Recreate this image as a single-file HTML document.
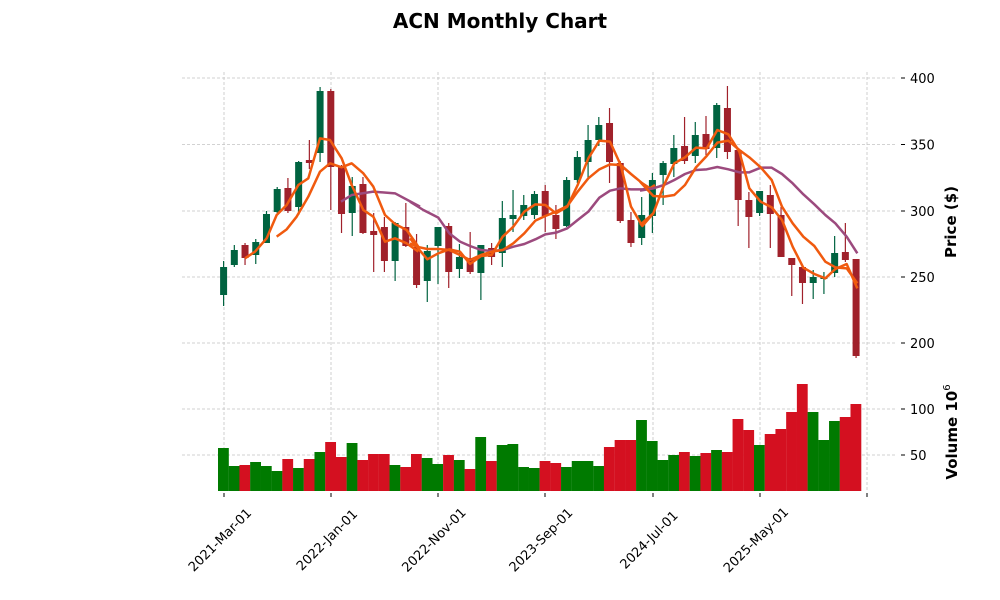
<!DOCTYPE html>
<html><head><meta charset="utf-8"><style>
html,body{margin:0;padding:0;background:#fff;}
svg{display:block;font-family:"DejaVu Sans","Liberation Sans",sans-serif;}
</style></head><body>
<svg id="s" width="1000" height="600" xmlns="http://www.w3.org/2000/svg">
<rect width="1000" height="600" fill="#fff"/>
<text x="500" y="28" text-anchor="middle" font-size="20" font-weight="bold">ACN Monthly Chart</text>
<g id="grid" stroke="#c4c4c4" stroke-width="0.8" stroke-dasharray="3,2"></g>
<g id="vol"></g>
<g id="cand"></g>
<g fill="none" stroke-width="2.5" stroke-linejoin="round">
<g transform="translate(180,70) scale(0.33333)">
<polyline vector-effect="non-scaling-stroke" stroke="#9c4a7e" points="483,395 515,375 580,365 645,370 720,410"/>
<polyline vector-effect="non-scaling-stroke" stroke="#f05a0f" points="195,565 225,545 260,505 290,435 320,405 355,345 385,325 420,205 450,210 485,265 515,345 550,420 580,440 615,515 645,505 680,520 715,545"/>
<polyline vector-effect="non-scaling-stroke" stroke="#f05a0f" points="290,500 320,478 350,440 385,380 420,305 450,280 485,292 515,280 550,310 580,350 615,435 645,462 680,480 715,530"/>
</g>
<g transform="translate(410,70) scale(0.33333)">
<polyline vector-effect="non-scaling-stroke" stroke="#9c4a7e" points="0,395 40,420 85,443 118,490 150,515 180,528 213,540 245,543 278,540 310,530 343,522 376,508 406,493 438,488 472,475 503,450 535,425 568,383 600,362 632,355 663,358 697,358 720,355"/>
<polyline vector-effect="non-scaling-stroke" stroke="#f05a0f" points="0,505 20,530 52,568 85,550 118,538 150,545 180,582 213,558 245,555 278,500 310,470 343,425 376,403 406,405 438,430 472,410 503,345 535,265 568,212 600,215 632,285 663,410 697,468 730,430"/>
<polyline vector-effect="non-scaling-stroke" stroke="#f05a0f" points="0,520 20,530 52,537 85,537 118,540 150,555 180,570 213,555 245,545 278,540 310,520 343,490 376,452 406,438 438,425 472,408 503,365 535,325 568,298 600,283 632,285 663,312 697,340 720,355 735,345"/>
</g>
<g transform="translate(640,70) scale(0.33333)">
<polyline vector-effect="non-scaling-stroke" stroke="#9c4a7e" points="0,362 40,355 72,345 103,330 135,312 168,300 200,298 232,291 265,298 298,307 328,307 362,293 395,293 426,312 458,340 490,373 523,403 556,435 586,460 620,500 652,550"/>
<polyline vector-effect="non-scaling-stroke" stroke="#f05a0f" points="0,465 40,430 72,345 103,280 135,262 168,233 200,235 232,180 265,193 298,245 328,355 362,395 395,412 426,450 458,530 490,593 523,612 556,625 586,597 620,582 652,655"/>
<polyline vector-effect="non-scaling-stroke" stroke="#f05a0f" points="0,335 40,378 72,380 103,375 135,345 168,292 200,258 232,218 265,212 298,240 328,262 362,292 395,330 426,410 458,460 490,500 523,528 556,575 586,592 620,595 652,640"/>
</g>
</g>
<g id="axes" font-size="13" fill="#000"></g>
<text transform="translate(956,222) rotate(-90)" text-anchor="middle" font-size="15" font-weight="bold">Price ($)</text>
<text transform="translate(957,432) rotate(-90)" text-anchor="middle" font-size="15" font-weight="bold">Volume  10<tspan dy="-7" font-size="10" font-weight="normal">6</tspan></text>
</svg>
<script>
var NS="http://www.w3.org/2000/svg";
function el(p,t,a,txt){var e=document.createElementNS(NS,t);for(var k in a)e.setAttribute(k,a[k]);if(txt!==undefined)e.textContent=txt;document.getElementById(p).appendChild(e);return e;}
var C=[[267,295,261,306,'g'],[250,265,245,267,'g'],[245,258,243,265,'r'],[242,255,239,264,'g'],[214,243,211,243,'g'],[189,212,187,213,'g'],[188,211,178,213,'r'],[162,207,161,215,'g'],[160,163,140,169,'r'],[91,153,87,162,'g'],[91,167,89,210,'r'],[166,214,165,233,'r'],[186,213,177,236,'g'],[184,233,177,234,'r'],[231,235,213,272,'r'],[227,261,217,272,'r'],[223,261,222,281,'g'],[227,246,203,247,'r'],[247,285,234,288,'r'],[251,281,245,302,'g'],[227,246,227,284,'g'],[226,272,223,288,'r'],[257,269,244,278,'g'],[258,272,232,274,'r'],[245,273,245,300,'g'],[248,257,243,265,'r'],[218,253,201,267,'g'],[215,219,190,232,'g'],[205,216,195,220,'g'],[194,215,191,219,'g'],[191,216,185,232,'r'],[215,229,205,239,'r'],[180,226,177,227,'g'],[157,180,151,183,'g'],[140,162,125,178,'g'],[125,140,117,146,'g'],[123,162,108,183,'r'],[163,221,161,223,'r'],[220,243,212,247,'r'],[215,238,197,245,'g'],[180,216,173,233,'g'],[163,175,161,205,'g'],[148,164,135,177,'g'],[146,161,117,164,'r'],[135,156,122,163,'g'],[134,149,116,155,'r'],[105,148,103,158,'g'],[108,152,86,159,'r'],[150,200,148,226,'r'],[200,217,192,248,'r'],[191,213,191,216,'g'],[195,214,185,248,'r'],[215,257,207,257,'r'],[258,265,258,296,'r'],[267,283,267,304,'r'],[277,283,270,299,'g'],[277,279,272,294,'g'],[253,273,236,277,'g'],[252,260,223,262,'r'],[259,356,259,358,'r']];
var V=[448,466,465,462,466,471,459,468,459,452,442,457,443,460,454,454,465,467,454,458,464,455,460,469,437,461,445,444,467,468,461,463,467,461,461,466,447,440,440,420,441,460,455,452,456,453,450,452,419,430,445,434,429,412,384,412,440,421,417,404];
var vx0=218,w=10.72;
for(var i=0;i<60;i++){
 var x=223.6+w*i, c=C[i];
 var vc=(c[4]=='g')?'#007a00':'#d41020';
 el('vol','rect',{x:(vx0+w*i).toFixed(2),y:V[i],width:(w+0.1).toFixed(2),height:(491-V[i]),fill:vc});
 var cc=(c[4]=='g')?'#006340':'#a0212b';
 el('cand','line',{x1:x,x2:x,y1:c[2],y2:c[3],stroke:cc,'stroke-width':1.2});
 el('cand','rect',{x:x-3.5,y:c[0],width:7,height:Math.max(1.5,c[1]-c[0]),fill:cc});
}
var gx=[224,331,438,545,653,760,867];
gx.forEach(function(x){el('grid','line',{x1:x,x2:x,y1:72,y2:370});el('grid','line',{x1:x,x2:x,y1:372,y2:492});});
var py=[[400,78],[350,144.5],[300,211],[250,277],[200,343]];
py.forEach(function(p){el('grid','line',{x1:182,x2:897,y1:p[1],y2:p[1]});});
var vy=[[100,409],[50,455]];
vy.forEach(function(p){el('grid','line',{x1:182,x2:897,y1:p[1],y2:p[1]});});
py.concat(vy).forEach(function(p){
 el('axes','line',{x1:901,x2:905,y1:p[1],y2:p[1],stroke:'#000','stroke-width':1});
 el('axes','text',{x:910,y:p[1]+5},String(p[0]));
});
var labs=['2021-Mar-01','2022-Jan-01','2022-Nov-01','2023-Sep-01','2024-Jul-01','2025-May-01'];
gx.forEach(function(x,i){
 el('axes','line',{x1:x,x2:x,y1:493,y2:497,stroke:'#000','stroke-width':1});
 if(i<6){el('axes','text',{x:0,y:0,'text-anchor':'middle',transform:'translate('+(x-1)+',543) rotate(-45)'},labs[i]);}
});
</script>
</body></html>
